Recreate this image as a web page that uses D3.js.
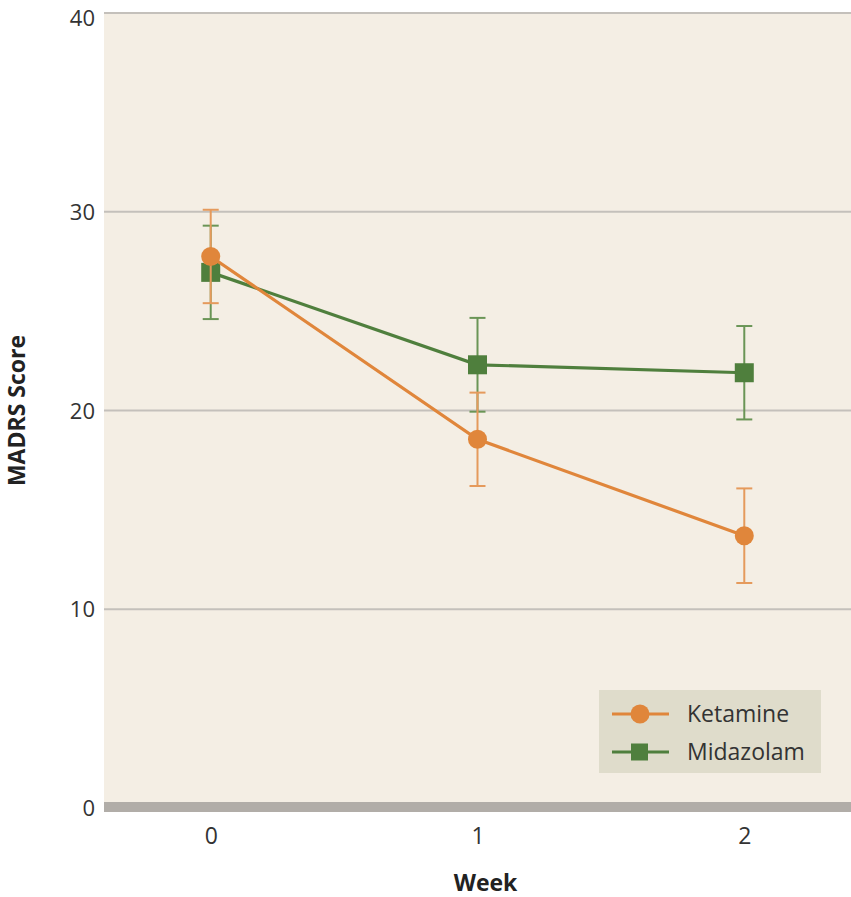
<!DOCTYPE html>
<html>
<head>
<meta charset="utf-8">
<script src="https://cdn.jsdelivr.net/npm/d3@7"></script>
<style>
  html, body { margin: 0; padding: 0; background: #fff; }
  svg { display: block; font-family: "Open Sans", "DejaVu Sans", sans-serif; }
</style>
</head>
<body>
<svg id="chart" width="851" height="897"></svg>
<script>
// MADRS score by week, mean with error bars
const weeks = [0, 1, 2];
const ketamineMean = [27.75, 18.55, 13.7];
const ketamineErr = [2.35, 2.35, 2.38];
const midazolamMean = [26.95, 22.3, 21.9];
const midazolamErr = [2.35, 2.36, 2.35];
const yTicks = [0, 10, 20, 30, 40];
const seriesNames = ["Ketamine", "Midazolam"];

const svg = d3.select("#chart");
const plot = { left: 104, right: 851, top: 13, bottom: 808 };

const x = d3.scaleLinear().domain([-0.4, 2.4]).range([plot.left, plot.right]);
const y = d3.scaleLinear().domain([0, 40]).range([plot.bottom, plot.top]);

// panel background
svg.append("rect")
  .attr("x", plot.left).attr("y", plot.top)
  .attr("width", plot.right - plot.left).attr("height", plot.bottom - plot.top)
  .attr("fill", "#f4eee4");

// gridlines
svg.append("g").selectAll("line")
  .data(yTicks.filter(d => d > 0))
  .join("line")
  .attr("x1", plot.left).attr("x2", plot.right)
  .attr("y1", d => y(d)).attr("y2", d => y(d))
  .attr("stroke", "#c4c0bb").attr("stroke-width", 2);

// baseline
svg.append("rect")
  .attr("x", plot.left).attr("y", y(0) - 6)
  .attr("width", plot.right - plot.left).attr("height", 10)
  .attr("fill", "#b1ada8");

// y axis labels (the top one nudged down to stay inside the page)
const yMax = d3.max(yTicks);
const yAxis = d3.axisLeft(y).tickValues(yTicks).tickSize(0).tickPadding(0);
const gy = svg.append("g").attr("transform", `translate(${plot.left - 9},0)`).call(yAxis);
gy.select(".domain").remove();
gy.selectAll("text")
  .attr("font-size", 22).attr("fill", "#333").attr("font-family", "'Open Sans', sans-serif")
  .attr("dy", d => d === yMax ? "0.55em" : "0.35em");

// x axis labels
const xAxis = d3.axisBottom(x).tickValues(weeks).tickFormat(d3.format("d")).tickSize(0).tickPadding(0);
const gx = svg.append("g").attr("transform", `translate(0,${plot.bottom + 20})`).call(xAxis);
gx.select(".domain").remove();
gx.selectAll("text")
  .attr("font-size", 23).attr("fill", "#333").attr("font-family", "'Open Sans', sans-serif");

// axis titles
svg.append("text")
  .attr("x", (x(0) + x(2)) / 2 + 8).attr("y", 891)
  .attr("text-anchor", "middle")
  .attr("font-size", 23).attr("font-weight", "bold").attr("fill", "#222")
  .text("Week");

svg.append("text")
  .attr("transform", `translate(25,${y(20)}) rotate(-90)`)
  .attr("text-anchor", "middle")
  .attr("font-size", 23).attr("font-weight", "bold").attr("fill", "#222")
  .text("MADRS Score");

const series = [
  { name: seriesNames[0], mean: ketamineMean, err: ketamineErr, color: "#e0863b", bar: "#e59a5c", shape: "circle" },
  { name: seriesNames[1], mean: midazolamMean, err: midazolamErr, color: "#4f7f3d", bar: "#6a9556", shape: "square" }
];

const line = d3.line().x(d => x(d.w)).y(d => y(d.v));
const capW = 8;

// draw midazolam first, ketamine on top
[series[1], series[0]].forEach(s => {
  const pts = weeks.map((w, i) => ({ w, v: s.mean[i], e: s.err[i] }));
  const g = svg.append("g");
  // error bars
  const eb = g.append("g").attr("stroke", s.bar).attr("stroke-width", 2);
  eb.selectAll("line.v").data(pts).join("line").attr("class", "v")
    .attr("x1", d => x(d.w)).attr("x2", d => x(d.w))
    .attr("y1", d => y(d.v + d.e)).attr("y2", d => y(d.v - d.e));
  eb.selectAll("line.t").data(pts).join("line").attr("class", "t")
    .attr("x1", d => x(d.w) - capW).attr("x2", d => x(d.w) + capW)
    .attr("y1", d => y(d.v + d.e)).attr("y2", d => y(d.v + d.e));
  eb.selectAll("line.b").data(pts).join("line").attr("class", "b")
    .attr("x1", d => x(d.w) - capW).attr("x2", d => x(d.w) + capW)
    .attr("y1", d => y(d.v - d.e)).attr("y2", d => y(d.v - d.e));
  // line
  g.append("path").datum(pts)
    .attr("d", line).attr("fill", "none")
    .attr("stroke", s.color).attr("stroke-width", 3.2);
  // markers
  if (s.shape === "circle") {
    g.selectAll("circle").data(pts).join("circle")
      .attr("cx", d => x(d.w)).attr("cy", d => y(d.v)).attr("r", 9.5)
      .attr("fill", s.color);
  } else {
    g.selectAll("rect").data(pts).join("rect")
      .attr("x", d => x(d.w) - 9.5).attr("y", d => y(d.v) - 9.5)
      .attr("width", 19).attr("height", 19)
      .attr("fill", s.color);
  }
});

// legend
const lg = svg.append("g").attr("transform", "translate(599,690)");
lg.append("rect").attr("width", 222).attr("height", 83).attr("fill", "#dfdccb");
series.forEach((s, i) => {
  const cy = 24 + i * 38;
  lg.append("line").attr("x1", 13).attr("x2", 70).attr("y1", cy).attr("y2", cy)
    .attr("stroke", s.color).attr("stroke-width", 3.2);
  if (s.shape === "circle") {
    lg.append("circle").attr("cx", 41).attr("cy", cy).attr("r", 9.5).attr("fill", s.color);
  } else {
    lg.append("rect").attr("x", 32).attr("y", cy - 8.5).attr("width", 17).attr("height", 17).attr("fill", s.color);
  }
  lg.append("text").attr("x", 88).attr("y", cy).attr("dy", "0.35em")
    .attr("font-size", 23).attr("fill", "#333").text(s.name);
});
</script>
</body>
</html>
